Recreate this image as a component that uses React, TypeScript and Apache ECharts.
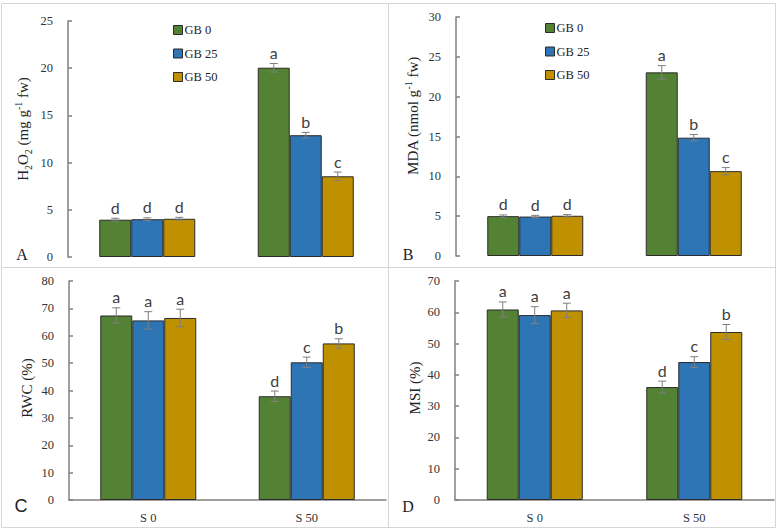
import React, { useEffect, useRef } from "react";
import * as echarts from "echarts";

const categories = ["S 0", "S 50"];
const seriesNames = ["GB 0", "GB 25", "GB 50"];
const colors = ["#548235", "#2E75B6", "#BF9000"];

// Panel A: H2O2
const aGB0 = [3.95, 20.05];
const aGB25 = [4.0, 12.9];
const aGB50 = [4.05, 8.55];
const aErr0 = [0.15, 0.45];
const aErr25 = [0.15, 0.3];
const aErr50 = [0.15, 0.45];
const aLetters = [["d", "a"], ["d", "b"], ["d", "c"]];

// Panel B: MDA
const bGB0 = [5.0, 23.05];
const bGB25 = [4.95, 14.85];
const bGB50 = [5.05, 10.65];
const bErr0 = [0.15, 0.85];
const bErr25 = [0.15, 0.4];
const bErr50 = [0.15, 0.45];
const bLetters = [["d", "a"], ["d", "b"], ["d", "c"]];

// Panel C: RWC
const cGB0 = [67.4, 37.9];
const cGB25 = [65.6, 50.3];
const cGB50 = [66.5, 57.2];
const cErr0 = [2.8, 1.9];
const cErr25 = [3.2, 1.9];
const cErr50 = [3.2, 1.7];
const cLetters = [["a", "d"], ["a", "c"], ["a", "b"]];

// Panel D: MSI
const dGB0 = [60.9, 36.1];
const dGB25 = [59.1, 44.1];
const dGB50 = [60.6, 53.7];
const dErr0 = [2.4, 1.9];
const dErr25 = [2.7, 1.7];
const dErr50 = [2.3, 2.4];
const dLetters = [["a", "d"], ["a", "c"], ["a", "b"]];

const yMax = [25, 30, 80, 70];
const yInterval = [5, 5, 10, 10];

const BAR_W = 32;
const AXIS_COLOR = "#808080";
const SERIF = "'Liberation Serif', 'Times New Roman', serif";
const SANS = "Lato, 'Liberation Sans', sans-serif";

const panels = [
  { vals: [aGB0, aGB25, aGB50], errs: [aErr0, aErr25, aErr50], letters: aLetters },
  { vals: [bGB0, bGB25, bGB50], errs: [bErr0, bErr25, bErr50], letters: bLetters },
  { vals: [cGB0, cGB25, cGB50], errs: [cErr0, cErr25, cErr50], letters: cLetters },
  { vals: [dGB0, dGB25, dGB50], errs: [dErr0, dErr25, dErr50], letters: dLetters },
];

const grids = [
  { left: 68, top: 21, width: 317, height: 236 },
  { left: 456, top: 17, width: 317, height: 239 },
  { left: 69, top: 281, width: 317, height: 219 },
  { left: 455, top: 281, width: 319, height: 219 },
];

function buildOption() {
  const series: any[] = [];
  panels.forEach((p, pi) => {
    p.vals.forEach((v, si) => {
      series.push({
        type: "bar",
        name: seriesNames[si],
        xAxisIndex: pi,
        yAxisIndex: pi,
        data: v,
        barWidth: BAR_W,
        barGap: "0%",
        itemStyle: { color: colors[si], borderColor: "#2b2b2b", borderWidth: 1 },
      });
    });
    const data: number[][] = [];
    const letters: string[] = [];
    p.vals.forEach((v, si) => {
      v.forEach((val, ci) => {
        data.push([ci, si, val, p.errs[si][ci]]);
        letters.push(p.letters[si][ci]);
      });
    });
    series.push({
      type: "custom",
      xAxisIndex: pi,
      yAxisIndex: pi,
      z: 10,
      silent: true,
      data,
      encode: { x: 0, y: 2 },
      renderItem: (params: any, api: any) => {
        const cat = api.value(0);
        const s = api.value(1);
        const v = api.value(2);
        const e = api.value(3);
        const top = api.coord([cat, v + e]);
        const bot = api.coord([cat, v - e]);
        const x = top[0] + (s - 1) * BAR_W;
        const cap = 4;
        const st = { stroke: "#7f7f7f", lineWidth: 1 };
        return {
          type: "group",
          children: [
            { type: "line", shape: { x1: x, y1: top[1], x2: x, y2: bot[1] }, style: st },
            { type: "line", shape: { x1: x - cap, y1: top[1], x2: x + cap, y2: top[1] }, style: st },
            { type: "line", shape: { x1: x - cap, y1: bot[1], x2: x + cap, y2: bot[1] }, style: st },
            {
              type: "text",
              x: x,
              y: top[1] - 3,
              style: {
                text: letters[params.dataIndex],
                textAlign: "center",
                textVerticalAlign: "bottom",
                align: "center",
                verticalAlign: "bottom",
                fontSize: 16,
                fontFamily: SANS,
                fill: "#404040",
              },
            },
          ],
        };
      },
    });
  });

  const xAxis = grids.map((_, i) => ({
    type: "category",
    gridIndex: i,
    data: categories,
    axisLine: { show: i >= 2, lineStyle: { color: AXIS_COLOR, width: 1.5 } },
    axisTick: { show: false },
    axisLabel: {
      show: i >= 2,
      margin: 11,
      fontFamily: SERIF,
      fontSize: 12.5,
      color: "#333",
    },
    splitLine: { show: false },
  }));

  const yAxis = grids.map((_, i) => ({
    type: "value",
    gridIndex: i,
    min: 0,
    max: yMax[i],
    interval: yInterval[i],
    axisLine: { show: true, lineStyle: { color: AXIS_COLOR, width: 1.5 } },
    axisTick: { show: true, inside: true, length: 4, lineStyle: { color: AXIS_COLOR, width: 1.5 } },
    axisLabel: { margin: 15, fontFamily: SERIF, fontSize: 12.5, color: "#333" },
    splitLine: { show: false },
  }));

  const legendBase = {
    data: seriesNames,
    orient: "vertical",
    itemWidth: 9,
    itemHeight: 9,
    itemGap: 10.5,
    icon: "rect",
    selectedMode: false,
    textStyle: { fontFamily: SERIF, fontSize: 12.5, color: "#222", padding: [0, 0, 0, -3] },
    itemStyle: { borderColor: "#2b2b2b", borderWidth: 1 },
  };

  const rich = {
    n: { fontFamily: SERIF, fontSize: 15, color: "#222", lineHeight: 20 },
    sub: { fontFamily: SERIF, fontSize: 10, color: "#222", verticalAlign: "bottom", lineHeight: 20 },
    sup: { fontFamily: SERIF, fontSize: 10, color: "#222", verticalAlign: "top", lineHeight: 20 },
  };

  const yTitle = (text: string, x: number, y: number) => ({
    type: "text",
    x,
    y,
    rotation: Math.PI / 2,
    style: {
      text,
      rich,
      align: "center",
      verticalAlign: "middle",
      textAlign: "center",
      textVerticalAlign: "middle",
      fontFamily: SERIF,
      fontSize: 15,
      fill: "#222",
    },
  });

  const panelLetter = (text: string, x: number, y: number, font: string, size: number) => ({
    type: "text",
    x,
    y,
    style: {
      text,
      align: "center",
      verticalAlign: "middle",
      textAlign: "center",
      textVerticalAlign: "middle",
      fontFamily: font,
      fontSize: size,
      fill: "#222",
    },
  });

  const frameStroke = { stroke: "#d6d6d6", lineWidth: 1 };

  return {
    animation: false,
    backgroundColor: "#ffffff",
    grid: grids,
    xAxis,
    yAxis,
    legend: [
      { ...legendBase, left: 168, top: 18.5 },
      { ...legendBase, left: 540, top: 16.5 },
    ],
    series,
    graphic: [
      { type: "rect", shape: { x: 1.5, y: 3.5, width: 774, height: 524 }, style: { fill: "none", ...frameStroke } },
      { type: "line", shape: { x1: 388.5, y1: 3.5, x2: 388.5, y2: 527.5 }, style: frameStroke },
      { type: "line", shape: { x1: 1.5, y1: 267.5, x2: 775.5, y2: 267.5 }, style: frameStroke },
      yTitle("{n|H}{sub|2}{n|O}{sub|2}{n| (mg g}{sup|-1}{n| fw)}", 23, 129),
      yTitle("{n|MDA (nmol g}{sup|-1}{n| fw)}", 413, 116),
      yTitle("{n|RWC (%)}", 27, 388),
      yTitle("{n|MSI (%)}", 415, 388),
      panelLetter("A", 22, 254, SERIF, 16),
      panelLetter("B", 408, 254, SERIF, 16),
      panelLetter("C", 21, 506, "'Liberation Sans', sans-serif", 18),
      panelLetter("D", 408, 506, SERIF, 16),
    ],
  };
}

export default function App() {
  const ref = useRef<HTMLDivElement>(null);
  useEffect(() => {
    if (!ref.current) return;
    const chart = echarts.init(ref.current, undefined, { renderer: "svg" });
    chart.setOption(buildOption() as any);
    return () => chart.dispose();
  }, []);
  return (
    <div
      ref={ref}
      style={{ position: "fixed", left: 0, top: 0, width: 778, height: 531, background: "#fff" }}
    />
  );
}
